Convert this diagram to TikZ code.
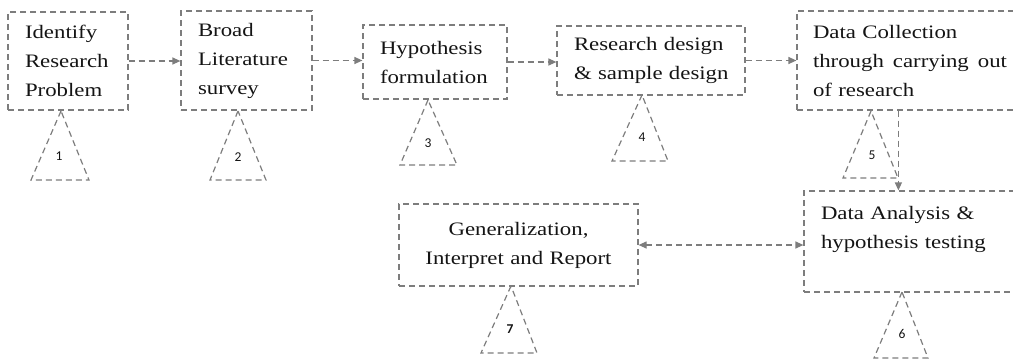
\documentclass[tikz,border=0pt]{standalone}
\usepackage{fontspec}
\setmainfont{Liberation Serif}[FakeStretch=1.2]
\newfontfamily\numfont{Carlito}
\usetikzlibrary{arrows.meta,calc}
\definecolor{lc}{RGB}{125,125,125}
\definecolor{tc}{RGB}{20,20,20}
\begin{document}
\begin{tikzpicture}[x=1pt,y=-1pt,
  dline/.style={draw=lc, line width=1.2pt, dash pattern=on 6pt off 4pt},
  box/.style={dline, rectangle, inner xsep=17pt, inner ysep=0pt, align=left,
    text=tc, font=\fontsize{19}{29}\selectfont},
  tri/.style={dline, line join=miter},
  num/.style={text=tc, inner sep=0pt, font=\numfont\fontsize{13.5}{13.5}\selectfont},
  arr/.style={dline, -{Triangle[length=8pt,width=7pt]}},
  darr/.style={dline, {Triangle[length=8pt,width=7pt]}-{Triangle[length=8pt,width=7pt]}}]
\useasboundingbox (0,0) rectangle (1013,360);
\clip (0,0) rectangle (1013,360);
% boxes
\node[box, minimum width=120pt, minimum height=98pt, text width=86pt] (b1) at (68,61) {Identify\\Research\\Problem};
\node[box, minimum width=131pt, minimum height=99pt, text width=97pt] (b2) at (246.5,60.5) {Broad\\Literature\\survey};
\node[box, minimum width=144pt, minimum height=74pt, text width=110pt] (b3) at (435,62) {Hypothesis\\formulation};
\node[box, minimum width=188pt, minimum height=69pt, text width=154pt] (b4) at (651,60.5) {\mbox{Research design}\\\mbox{\& sample design}};
\node[box, minimum width=234pt, minimum height=99pt, text width=202pt, inner xsep=16pt] (b5) at (914,60.5) {\mbox{Data Collection}\\\mbox{through\hspace{9pt}carrying\hspace{9pt}out}\\\mbox{of research}};
\node[box, minimum width=230pt, minimum height=101pt, text width=196pt] (b6) at (919,241.5) {\mbox{Data Analysis \&}\\\mbox{hypothesis testing}\\\mbox{}};
\node[box, align=center, minimum width=239pt, minimum height=82pt, text width=205pt] (b7) at (518.5,245) {Generalization,\\\mbox{Interpret and Report}};
% connectors
\draw[arr] (b1.east) -- (b1.east -| b2.west);
\draw[arr] (b2.east) -- (b2.east -| b3.west);
\draw[arr] (b3.east) -- (b3.east -| b4.west);
\draw[arr] (b4.east) -- (b4.east -| b5.west);
\coordinate (v5) at ($(b5.south west)+(102,0)$);
\draw[arr] (v5) -- (v5 |- b6.north);
\draw[darr] (b7.east) -- (b7.east -| b6.west);
% triangles
\draw[tri] (61,111) -- (31,180) -- (89,180) -- cycle;
\draw[tri] (238,111) -- (210,180) -- (266,180) -- cycle;
\draw[tri] (428,100) -- (400,165) -- (457,165) -- cycle;
\draw[tri] (642,95) -- (612,161) -- (668,161) -- cycle;
\draw[tri] (871,111) -- (843,178) -- (898,178) -- cycle;
\draw[tri] (902,292) -- (874,358) -- (928,358) -- cycle;
\draw[tri] (511,286) -- (481,353) -- (537,353) -- cycle;
% numbers
\node[num] (n1) at (59,156) {1};
\node[num] (n2) at (238,157) {2};
\node[num] (n3) at (428,143) {3};
\node[num] (n4) at (642,137) {4};
\node[num] (n5) at (872,155) {5};
\node[num] (n6) at (902,334) {6};
\node[num, font=\numfont\bfseries\fontsize{13.5}{13.5}\selectfont] (n7) at (510,329) {7};
\end{tikzpicture}
\end{document}
